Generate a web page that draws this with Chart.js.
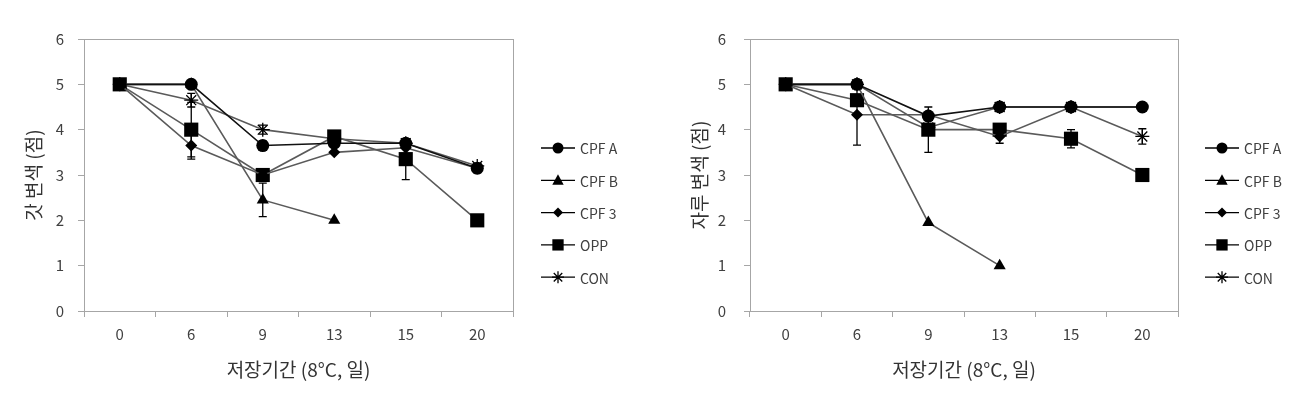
<!DOCTYPE html>
<html>
<head>
<meta charset="utf-8">
<script src="https://cdn.jsdelivr.net/npm/chart.js@4/dist/chart.umd.min.js"></script>
<style>
  html, body { margin: 0; padding: 0; background: #fff; }
  #wrap { position: relative; width: 1309px; height: 407px; }
  .box { position: absolute; top: 0; width: 655px; height: 407px; }
</style>
</head>
<body>
<div id="wrap">
  <div class="box" style="left:0"><canvas id="chartCap" width="655" height="407"></canvas></div>
  <div class="box" style="left:654px"><canvas id="chartStem" width="655" height="407"></canvas></div>
</div>
<script>
// 저장기간 (일)
const days = ["0", "6", "9", "13", "15", "20"];
const seriesNames = ["CPF A", "CPF B", "CPF 3", "OPP", "CON"];

// 갓 변색 (점)
const capCpfA = [5, 5, 3.65, 3.7, 3.7, 3.15];
const capCpfB = [5, 5, 2.45, 2.0, null, null];
const capCpf3 = [5, 3.65, 3.0, 3.5, 3.6, 3.15];
const capOpp  = [5, 4.0, 3.0, 3.85, 3.35, 2.0];
const capCon  = [5, 4.65, 4.0, 3.8, 3.7, 3.2];
// 표준오차
const capErrCpfA = [0, 0, 0.1, 0, 0, 0.1];
const capErrCpfB = [0, 0, 0.37, 0, 0, 0];
const capErrCpf3 = [0, 0.3, 0, 0, 0, 0];
const capErrOpp  = [0, 0.6, 0, 0, 0.45, 0];
const capErrCon  = [0, 0.15, 0.1, 0, 0.1, 0];

// 자루 변색 (점)
const stemCpfA = [5, 5, 4.3, 4.5, 4.5, 4.5];
const stemCpfB = [5, 5, 1.95, 1.0, null, null];
const stemCpf3 = [5, 4.33, 4.33, 3.85, 4.5, 4.5];
const stemOpp  = [5, 4.65, 4.0, 4.0, 3.8, 3.0];
const stemCon  = [5, 5, 4.05, 4.5, 4.5, 3.85];
const stemErrCpfA = [0, 0, 0, 0, 0, 0];
const stemErrCpfB = [0, 0, 0, 0, 0, 0];
const stemErrCpf3 = [0, 0.67, 0, 0.15, 0, 0];
const stemErrOpp  = [0, 0, 0.5, 0, 0.2, 0];
const stemErrCon  = [0, 0, 0, 0, 0, 0.17];

const yTicks = [0, 1, 2, 3, 4, 5, 6];

const FONT = "'Noto Sans CJK KR', 'Noto Sans', sans-serif";
const styles = [
  { pointStyle: "circle",   radius: 6.5, legendRadius: 5.5, line: "#111" },
  { pointStyle: "triangle", radius: 7,   legendRadius: 6,   line: "#5a5a5a" },
  { pointStyle: "rectRot",  radius: 6,   legendRadius: 5,   line: "#5a5a5a" },
  { pointStyle: "rect",     radius: 10,  legendRadius: 8,   line: "#5a5a5a" },
  { pointStyle: "star",     radius: 7,   legendRadius: 6,   line: "#5a5a5a" }
];

function drawMarker(ctx, style, r, x, y) {
  ctx.save();
  ctx.fillStyle = "#000";
  ctx.strokeStyle = "#000";
  ctx.lineWidth = 1.3;
  ctx.beginPath();
  if (style === "circle") {
    ctx.arc(x, y, r, 0, Math.PI * 2);
    ctx.fill();
  } else if (style === "triangle") {
    ctx.moveTo(x, y - r);
    ctx.lineTo(x + r * 0.95, y + r * 0.75);
    ctx.lineTo(x - r * 0.95, y + r * 0.75);
    ctx.closePath();
    ctx.fill();
  } else if (style === "rectRot") {
    ctx.moveTo(x, y - r);
    ctx.lineTo(x + r, y);
    ctx.lineTo(x, y + r);
    ctx.lineTo(x - r, y);
    ctx.closePath();
    ctx.fill();
  } else if (style === "rect") {
    const s = r * Math.SQRT1_2;
    ctx.rect(x - s, y - s, 2 * s, 2 * s);
    ctx.fill();
  } else {
    for (let k = 0; k < 4; k++) {
      const a = k * Math.PI / 4;
      ctx.moveTo(x - Math.sin(a) * r, y - Math.cos(a) * r);
      ctx.lineTo(x + Math.sin(a) * r, y + Math.cos(a) * r);
    }
    ctx.stroke();
  }
  ctx.restore();
}

// 플롯 영역 테두리
const frame = {
  id: "frame",
  beforeDatasetsDraw(chart) {
    const a = chart.chartArea;
    const ctx = chart.ctx;
    ctx.save();
    ctx.strokeStyle = "#a6a6a6";
    ctx.lineWidth = 1;
    ctx.strokeRect(a.left + 0.5, a.top + 0.5, a.right - a.left, a.bottom - a.top);
    ctx.restore();
  }
};

// 오차막대
const errorBars = {
  id: "errorBars",
  afterDatasetsDraw(chart) {
    const ctx = chart.ctx;
    const yScale = chart.scales.y;
    ctx.save();
    ctx.strokeStyle = "#000";
    ctx.lineWidth = 1.3;
    chart.data.datasets.forEach((ds, i) => {
      const meta = chart.getDatasetMeta(i);
      (ds.errors || []).forEach((e, j) => {
        const v = ds.data[j];
        if (!e || v == null) return;
        const x = meta.data[j].x;
        const y1 = yScale.getPixelForValue(v - e);
        const y2 = yScale.getPixelForValue(v + e);
        ctx.beginPath();
        ctx.moveTo(x, y1); ctx.lineTo(x, y2);
        ctx.moveTo(x - 4, y1); ctx.lineTo(x + 4, y1);
        ctx.moveTo(x - 4, y2); ctx.lineTo(x + 4, y2);
        ctx.stroke();
      });
    });
    ctx.restore();
  }
};

// 오른쪽 범례
const sideLegend = {
  id: "sideLegend",
  afterDraw(chart, args, opts) {
    const ctx = chart.ctx;
    chart.data.datasets.forEach((ds, i) => {
      const y = opts.y0 + i * opts.dy;
      const st = styles[i];
      ctx.save();
      ctx.strokeStyle = "#000";
      ctx.lineWidth = 1.3;
      ctx.beginPath();
      ctx.moveTo(opts.x, y);
      ctx.lineTo(opts.x + opts.len, y);
      ctx.stroke();
      ctx.restore();
      drawMarker(ctx, st.pointStyle, st.legendRadius, opts.x + opts.len / 2, y);
      ctx.save();
      ctx.fillStyle = "#404040";
      ctx.font = "14px " + FONT;
      ctx.textBaseline = "middle";
      ctx.fillText(ds.label, opts.x + opts.len + 5, y + 1);
      ctx.restore();
    });
  }
};

function makeDatasets(values, errs) {
  return values.map((vals, i) => ({
    label: seriesNames[i],
    data: vals,
    errors: errs[i],
    borderColor: styles[i].line,
    borderWidth: 1.6,
    backgroundColor: "#000",
    pointBackgroundColor: "#000",
    pointBorderColor: "#000",
    pointBorderWidth: styles[i].pointStyle === "star" ? 1.3 : 0,
    pointStyle: styles[i].pointStyle,
    pointRadius: styles[i].radius,
    tension: 0,
    spanGaps: false
  }));
}

function makeChart(id, values, errs, yTitle, pad, legendX) {
  new Chart(document.getElementById(id), {
    type: "line",
    data: { labels: days, datasets: makeDatasets(values, errs) },
    plugins: [frame, errorBars, sideLegend],
    options: {
      responsive: false,
      animation: false,
      layout: { padding: { left: pad.left, right: pad.right, top: 39, bottom: 21.6 } },
      plugins: {
        legend: { display: false },
        tooltip: { enabled: false },
        sideLegend: { x: legendX, y0: 148, dy: 32.3, len: 34 }
      },
      scales: {
        x: {
          type: "category",
          offset: true,
          afterFit: s => { s.height = 74.4; },
          border: { color: "#a6a6a6" },
          grid: { offset: true, drawOnChartArea: false, tickLength: 6, color: "#a6a6a6" },
          ticks: { color: "#404040", font: { family: FONT, size: 15 }, padding: 8 },
          title: { display: true, text: "저장기간 (8°C, 일)", color: "#333", font: { family: FONT, size: 19 } }
        },
        y: {
          min: 0,
          max: 6,
          afterFit: s => { s.width = pad.area - pad.left; },
          afterBuildTicks: s => { s.ticks = yTicks.map(v => ({ value: v })); },
          border: { color: "#a6a6a6" },
          grid: { drawOnChartArea: false, tickLength: 6, color: "#a6a6a6" },
          ticks: { color: "#404040", font: { family: FONT, size: 15 }, padding: pad.tickPad },
          title: { display: true, text: yTitle, color: "#333", font: { family: FONT, size: 19 } }
        }
      }
    }
  });
}

makeChart("chartCap",
  [capCpfA, capCpfB, capCpf3, capOpp, capCon],
  [capErrCpfA, capErrCpfB, capErrCpf3, capErrOpp, capErrCon],
  "갓 변색 (점)", { left: 18.6, area: 84, right: 142, tickPad: 14 }, 541);

makeChart("chartStem",
  [stemCpfA, stemCpfB, stemCpf3, stemOpp, stemCon],
  [stemErrCpfA, stemErrCpfB, stemErrCpf3, stemErrOpp, stemErrCon],
  "자루 변색 (점)", { left: 30.6, area: 96, right: 131, tickPad: 18 }, 1205 - 654);
</script>
</body>
</html>
